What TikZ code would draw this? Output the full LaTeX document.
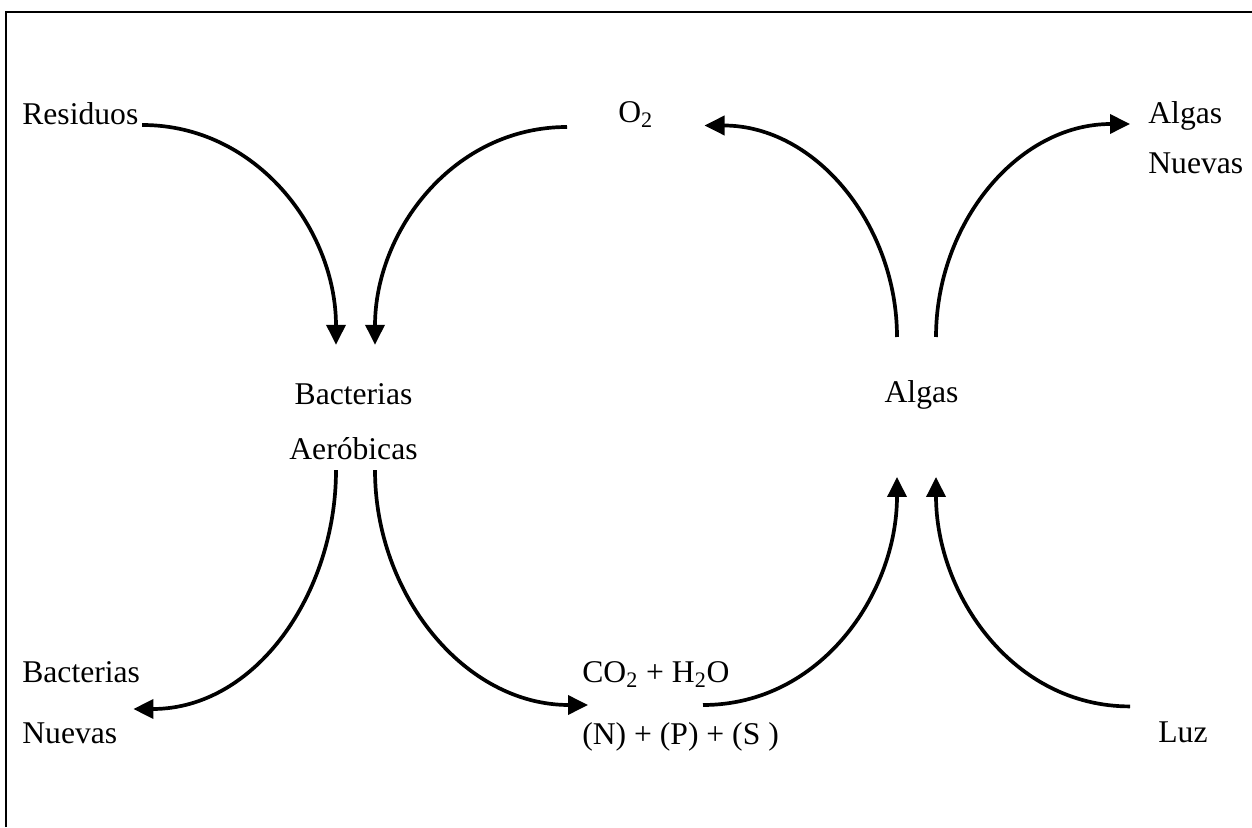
\documentclass[tikz,border=0pt]{standalone}
\usepackage{fontspec}
\setmainfont{Liberation Serif}
\usetikzlibrary{arrows.meta}

\begin{document}
\begin{tikzpicture}[
    >={Triangle[length=0.4cm, width=0.38cm]},
    term/.style={inner sep=0, font=\fontsize{18}{22}\selectfont, align=left},
    flow/.style={->, line width=2.1pt},
    edgeline/.style={line width=0.8pt}
]
\useasboundingbox (0,0) rectangle (25.04,16.54);

% scanned frame: only top and left edges
\draw[edgeline] (0.12,0) -- (0.12,16.30) -- (25.04,16.30);

% -------------------------------------------------------------------------
% Labels
% -------------------------------------------------------------------------
\node[term, anchor=base west] (res) at (0.44, 14.04) {Residuos};
\node[term, anchor=base west] (o2) at (12.36, 14.08) {O\textsubscript{2}};
\node[term, anchor=north west] (algasnew) at (22.96, 14.51) {Algas\\[6.45pt]Nuevas};

\node[term, align=center] (bact) at (7.07, 8.105) {Bacterias\\[9.3pt]Aeróbicas};
\node[term, anchor=base] (algas) at (18.43, 8.48) {Algas};

\node[term, anchor=west] (bactnew) at (0.44, 2.485) {Bacterias\\[12.7pt]Nuevas};
\node[term, anchor=west] (co2) at (11.64, 2.41) {CO\textsubscript{2} + H\textsubscript{2}O\\[13.3pt](N) + (P) + (S )};
\node[term, anchor=base west] (luz) at (23.16, 1.70) {Luz};

% -------------------------------------------------------------------------
% Flows into the bacteria
% -------------------------------------------------------------------------
\draw[flow] ([xshift=2pt]res.base east) to[out=0, in=90] ([shift={(-0.35,0.77)}]bact.north);
\draw[flow] ([shift={(-1.02,-0.08)}]o2.base west) to[out=180, in=90] ([shift={(0.43,0.77)}]bact.north);

% bacteria products
\draw[flow] ([shift={(-0.35,-0.2)}]bact.south) to[out=-90, in=0] ([shift={(-0.14,-0.125)}]bactnew.east);
\draw[flow] ([shift={(0.43,-0.2)}]bact.south) to[out=-90, in=180] ([shift={(0.12,0.03)}]co2.west);

% flows into the algae
\draw[flow] ([shift={(2.42,0.03)}]co2.west) to[out=0, in=-90] ([shift={(-0.49,-1.48)}]algas.base);
\draw[flow] ([shift={(-0.56,0.29)}]luz.north west) to[out=180, in=-90] ([shift={(0.29,-1.48)}]algas.base);

% algae products
\draw[flow] ([shift={(-0.49,1.32)}]algas.base) to[out=90, in=0] ([shift={(1.02,-0.05)}]o2.base east);
\draw[flow] ([shift={(0.29,1.32)}]algas.base) to[out=90, in=180] ([shift={(-0.36,-0.45)}]algasnew.north west);

\end{tikzpicture}
\end{document}
